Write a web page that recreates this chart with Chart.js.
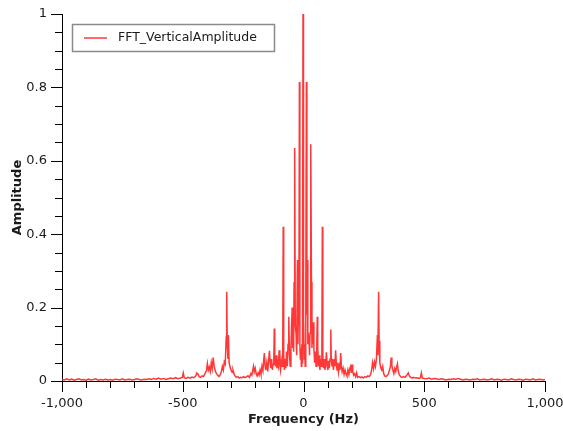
<!DOCTYPE html>
<html>
<head>
<meta charset="utf-8">
<script src="https://cdn.jsdelivr.net/npm/chart.js@4.4.1/dist/chart.umd.min.js"></script>
<style>
  html, body { margin: 0; padding: 0; background: #fff; }
  #wrap { width: 563px; height: 431px; position: relative; }
</style>
</head>
<body>
<div id="wrap"><canvas id="c" width="563" height="431"></canvas></div>
<script>
const seriesLabel = 'FFT_VerticalAmplitude';
const xTitle = 'Frequency (Hz)';
const yTitle = 'Amplitude';
const xTickLabels = ['-1,000', '-500', '0', '500', '1,000'];
const yTickLabels = ['0', '0.2', '0.4', '0.6', '0.8', '1'];

const freq = [
  -1000, -990, -980, -970, -960, -950, -940, -930, -920, -910,
  -900, -890, -880, -870, -860, -850, -840, -830, -820, -810,
  -800, -790, -780, -770, -760, -750, -740, -730, -720, -710,
  -700, -690, -680, -670, -660, -650, -640, -630, -620, -610,
  -600, -590, -580, -570, -560, -550, -540, -530, -520, -510,
  -502, -498, -494, -486, -478, -470, -462, -454, -446, -442,
  -438, -432, -426, -420, -414, -408, -402, -398, -394, -390,
  -386, -382, -378, -374, -370, -366, -362, -356, -350, -344,
  -340, -336, -332, -328, -324, -320, -318, -316, -313, -311,
  -308, -304, -300, -296, -292, -288, -284, -278, -272, -266,
  -260, -254, -248, -242, -236, -230, -224, -218, -214, -210,
  -207, -204, -200, -196, -192, -188, -184, -180, -176, -172,
  -168, -165, -162, -159, -156, -152, -148, -144, -141, -138,
  -135, -132, -129, -126, -123, -121, -119, -116, -113, -110,
  -107, -104, -101, -98, -95, -92, -89, -86, -84, -82,
  -79, -76, -73, -70, -67, -64, -61, -58, -55, -52,
  -49, -47, -45, -43, -41, -39, -37, -36, -34, -31,
  -29, -27, -25, -23, -21, -19, -17, -15, -13, -11,
  -9, -7, -5, -4, -2, 0, 3, 5, 7, 9,
  10, 12, 14, 16, 18, 21, 23, 25, 27, 29,
  31, 33, 35, 37, 39, 41, 43, 46, 49, 52,
  55, 57, 59, 62, 65, 68, 71, 74, 76, 78,
  80, 83, 86, 89, 92, 95, 98, 101, 104, 107,
  110, 113, 115, 118, 121, 124, 127, 130, 133, 136,
  139, 142, 145, 148, 151, 154, 157, 160, 164, 168,
  172, 176, 180, 184, 188, 192, 195, 198, 201, 204,
  208, 212, 216, 220, 224, 230, 236, 242, 248, 254,
  260, 266, 272, 278, 282, 286, 290, 294, 298, 302,
  306, 308, 311, 313, 316, 320, 324, 328, 332, 336,
  342, 348, 352, 356, 360, 363, 366, 370, 374, 378,
  382, 386, 389, 392, 396, 402, 408, 414, 420, 426,
  430, 434, 438, 444, 450, 456, 462, 470, 478, 484,
  488, 492, 500, 510, 520, 530, 540, 550, 560, 570,
  580, 590, 600, 610, 620, 630, 640, 650, 660, 670,
  680, 690, 700, 710, 720, 730, 740, 750, 760, 770,
  780, 790, 800, 810, 820, 830, 840, 850, 860, 870,
  880, 890, 900, 910, 920, 930, 940, 950, 960, 970,
  980, 990, 1000
];

const amp = [
  0.004, 0.003, 0.006, 0.003, 0.005, 0.002, 0.004, 0.006, 0.003, 0.004,
  0.002, 0.005, 0.003, 0.004, 0.006, 0.002, 0.004, 0.003, 0.005, 0.003,
  0.004, 0.002, 0.005, 0.004, 0.003, 0.006, 0.003, 0.004, 0.005, 0.003,
  0.004, 0.006, 0.004, 0.003, 0.005, 0.004, 0.006, 0.004, 0.007, 0.005,
  0.008, 0.005, 0.007, 0.004, 0.006, 0.008, 0.006, 0.009, 0.006, 0.008,
  0.010, 0.022, 0.009, 0.007, 0.010, 0.008, 0.011, 0.009, 0.014, 0.022,
  0.020, 0.012, 0.010, 0.014, 0.012, 0.020, 0.028, 0.048, 0.030, 0.038,
  0.026, 0.050, 0.034, 0.064, 0.040, 0.030, 0.022, 0.016, 0.012, 0.018,
  0.026, 0.040, 0.030, 0.052, 0.046, 0.120, 0.243, 0.110, 0.060, 0.125,
  0.050, 0.038, 0.030, 0.024, 0.030, 0.020, 0.014, 0.010, 0.012, 0.008,
  0.010, 0.009, 0.012, 0.009, 0.011, 0.014, 0.010, 0.020, 0.016, 0.030,
  0.040, 0.025, 0.035, 0.020, 0.014, 0.022, 0.016, 0.030, 0.018, 0.040,
  0.028, 0.055, 0.076, 0.040, 0.030, 0.050, 0.026, 0.060, 0.082, 0.050,
  0.035, 0.060, 0.030, 0.045, 0.060, 0.143, 0.060, 0.040, 0.070, 0.035,
  0.050, 0.040, 0.084, 0.045, 0.030, 0.055, 0.040, 0.070, 0.420, 0.070,
  0.030, 0.060, 0.035, 0.080, 0.040, 0.100, 0.175, 0.070, 0.040, 0.090,
  0.160, 0.200, 0.090, 0.140, 0.080, 0.270, 0.200, 0.635, 0.150, 0.130,
  0.070, 0.110, 0.330, 0.100, 0.200, 0.150, 0.815, 0.100, 0.060, 0.090,
  0.040, 0.100, 0.050, 0.200, 1.000, 0.180, 0.060, 0.100, 0.040, 0.090,
  0.200, 0.815, 0.180, 0.330, 0.100, 0.120, 0.110, 0.070, 0.130, 0.200,
  0.645, 0.270, 0.090, 0.140, 0.100, 0.160, 0.090, 0.050, 0.080, 0.040,
  0.100, 0.175, 0.090, 0.040, 0.070, 0.030, 0.060, 0.040, 0.080, 0.420,
  0.070, 0.035, 0.060, 0.030, 0.050, 0.078, 0.040, 0.030, 0.055, 0.035,
  0.060, 0.140, 0.060, 0.040, 0.050, 0.030, 0.060, 0.040, 0.084, 0.045,
  0.030, 0.050, 0.025, 0.040, 0.030, 0.076, 0.040, 0.025, 0.035, 0.018,
  0.030, 0.020, 0.014, 0.030, 0.018, 0.035, 0.040, 0.022, 0.045, 0.025,
  0.016, 0.020, 0.012, 0.022, 0.010, 0.012, 0.009, 0.011, 0.008, 0.012,
  0.010, 0.014, 0.012, 0.018, 0.030, 0.050, 0.034, 0.052, 0.040, 0.060,
  0.125, 0.070, 0.243, 0.110, 0.050, 0.036, 0.030, 0.040, 0.020, 0.014,
  0.012, 0.016, 0.020, 0.030, 0.040, 0.064, 0.042, 0.030, 0.020, 0.034,
  0.026, 0.040, 0.047, 0.028, 0.018, 0.012, 0.010, 0.012, 0.010, 0.014,
  0.018, 0.022, 0.014, 0.010, 0.008, 0.010, 0.008, 0.009, 0.007, 0.009,
  0.022, 0.008, 0.007, 0.006, 0.008, 0.005, 0.007, 0.006, 0.004, 0.006,
  0.005, 0.003, 0.005, 0.004, 0.006, 0.004, 0.007, 0.005, 0.003, 0.005,
  0.004, 0.003, 0.005, 0.004, 0.006, 0.003, 0.004, 0.005, 0.003, 0.004,
  0.006, 0.003, 0.005, 0.004, 0.002, 0.005, 0.004, 0.003, 0.006, 0.004,
  0.003, 0.005, 0.004, 0.002, 0.005, 0.004, 0.003, 0.006, 0.003, 0.004,
  0.005, 0.003, 0.004
];

const FONT = '"DejaVu Sans", Verdana, sans-serif';
const TEXT = '#1a1a1a';
const LINE = 'rgba(255,20,20,0.85)';

const points = freq.map((f, i) => ({ x: f, y: amp[i] }));

function fmtX(v) {
  const idx = [-1000, -500, 0, 500, 1000].indexOf(Math.round(v));
  return idx >= 0 ? xTickLabels[idx] : '';
}
function fmtY(v) {
  const k = Math.round(v * 5);
  if (Math.abs(v * 5 - k) < 1e-6 && k >= 0 && k < yTickLabels.length) return yTickLabels[k];
  return '';
}

const tickPlugin = {
  id: 'customTicks',
  afterDraw(chart) {
    const ctx = chart.ctx;
    const xs = chart.scales.x, ys = chart.scales.y;
    ctx.save();
    ctx.strokeStyle = '#000';
    ctx.lineWidth = 1;
    ys.ticks.forEach(t => {
      const py = Math.round(ys.getPixelForValue(t.value)) + 0.5;
      const len = fmtY(t.value) !== '' ? 11 : 7;
      ctx.beginPath();
      ctx.moveTo(ys.right - len, py);
      ctx.lineTo(ys.right, py);
      ctx.stroke();
    });
    xs.ticks.forEach(t => {
      const px = Math.round(xs.getPixelForValue(t.value)) + 0.5;
      const len = fmtX(t.value) !== '' ? 11 : 7;
      ctx.beginPath();
      ctx.moveTo(px, xs.top);
      ctx.lineTo(px, xs.top + len);
      ctx.stroke();
    });
    // legend
    const bx = 72.5, by = 24.5, bw = 202, bh = 27;
    ctx.strokeStyle = '#8a8a8a';
    ctx.lineWidth = 1.5;
    ctx.strokeRect(bx, by, bw, bh);
    ctx.strokeStyle = 'rgba(255,70,70,0.8)';
    ctx.lineWidth = 2;
    ctx.beginPath();
    ctx.moveTo(84, 38);
    ctx.lineTo(107, 38);
    ctx.stroke();
    ctx.fillStyle = TEXT;
    ctx.font = '12.5px ' + FONT;
    ctx.textBaseline = 'middle';
    ctx.textAlign = 'left';
    ctx.fillText(chart.data.datasets[0].label, 118, 38);
    ctx.restore();
  }
};

new Chart(document.getElementById('c'), {
  type: 'line',
  data: {
    datasets: [{
      label: seriesLabel,
      data: points,
      borderColor: LINE,
      borderWidth: 1.5,
      pointRadius: 0,
      tension: 0,
      fill: false
    }]
  },
  options: {
    responsive: false,
    animation: false,
    layout: { padding: { top: 14, right: 18, left: 0, bottom: 0 } },
    plugins: { legend: { display: false }, tooltip: { enabled: false } },
    scales: {
      x: {
        type: 'linear',
        min: -1000, max: 1000,
        afterFit: s => { s.height = 50; s.paddingLeft = 0; s.paddingRight = 0; },
        ticks: {
          stepSize: 100, autoSkip: false, maxRotation: 0, minRotation: 0,
          padding: 5, color: TEXT, font: { family: FONT, size: 13 },
          callback: v => fmtX(v)
        },
        grid: { drawOnChartArea: false, drawTicks: true, tickLength: 10, tickColor: 'rgba(0,0,0,0)' },
        border: { display: true, color: '#000', width: 1 },
        title: { display: true, text: xTitle, color: TEXT, font: { family: FONT, size: 13, weight: 'bold' }, padding: { top: 0, bottom: 4 } }
      },
      y: {
        type: 'linear',
        min: 0, max: 1,
        afterFit: s => { s.width = 62; s.paddingTop = 0; s.paddingBottom = 0; },
        ticks: {
          stepSize: 0.05, autoSkip: false,
          padding: 5, color: TEXT, font: { family: FONT, size: 13 },
          callback: v => fmtY(v)
        },
        grid: { drawOnChartArea: false, drawTicks: true, tickLength: 10, tickColor: 'rgba(0,0,0,0)' },
        border: { display: true, color: '#000', width: 1 },
        title: { display: true, text: yTitle, color: TEXT, font: { family: FONT, size: 13, weight: 'bold' }, padding: { top: 10, bottom: 0 } }
      }
    }
  },
  plugins: [tickPlugin]
});
</script>
</body>
</html>
